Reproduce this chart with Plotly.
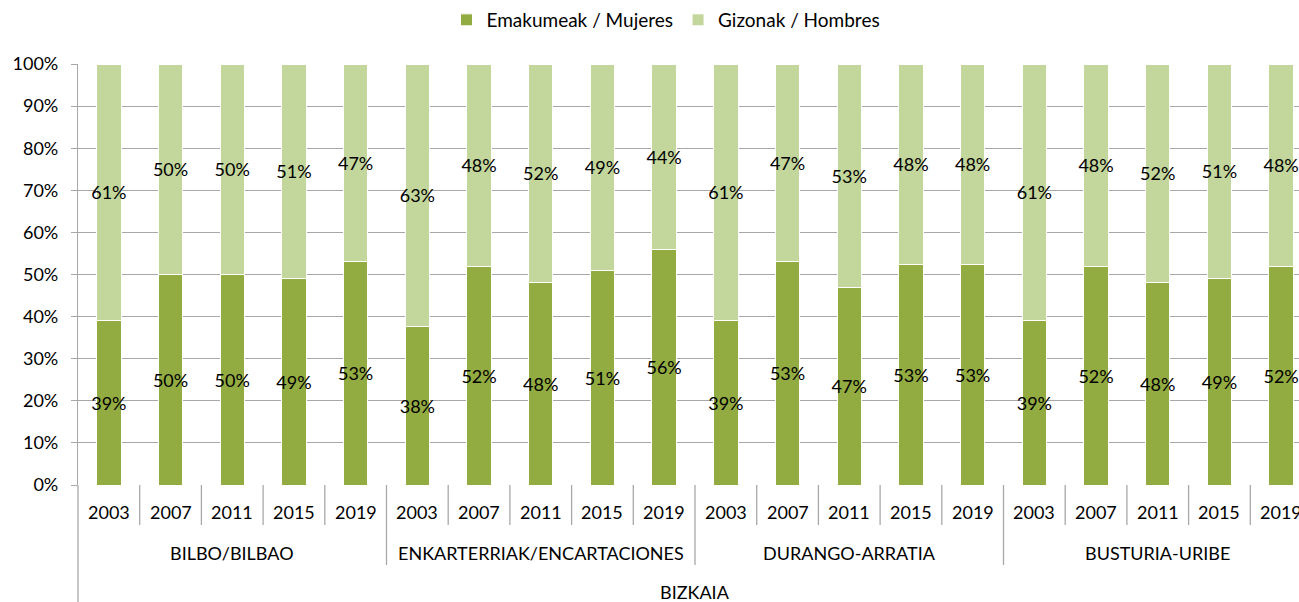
import plotly.graph_objects as go

# ---------------- data ----------------
regions = ["BILBO/BILBAO", "ENKARTERRIAK/ENCARTACIONES", "DURANGO-ARRATIA", "BUSTURIA-URIBE"]
years = ["2003", "2007", "2011", "2015", "2019"]
top_label = "BIZKAIA"

women = [39, 50, 50, 49, 53,
         38, 52, 48, 51, 56,
         39, 53, 47, 53, 53,
         39, 52, 48, 49, 52]
men = [61, 50, 50, 51, 47,
       63, 48, 52, 49, 44,
       61, 47, 53, 48, 48,
       61, 48, 52, 51, 48]

series_names = ["Emakumeak / Mujeres", "Gizonak / Hombres"]
y_ticks = [0, 10, 20, 30, 40, 50, 60, 70, 80, 90, 100]

# ---------------- style ----------------
FONT = "Lato"
FS = 18
C_WOMEN = "#93AC42"
C_MEN = "#C3D69B"
GRID = "#A8A8A8"
TXT = "#000000"

n = len(regions) * len(years)
xs = list(range(n))

fig = go.Figure()
for vals, name, col in [(women, series_names[0], C_WOMEN), (men, series_names[1], C_MEN)]:
    fig.add_trace(go.Bar(
        x=xs, y=vals, name=name,
        marker=dict(color=col, line=dict(color="white", width=1)),
        text=[f"{v}%" for v in vals],
        textposition="inside", insidetextanchor="middle",
        textangle=0, constraintext="none",
        textfont=dict(family=FONT, size=FS, color=TXT),
        cliponaxis=False,
        hoverinfo="skip",
    ))

W, H = 1299, 602
L, R, T, B = 78, 0, 64, 117
cat_px = 61.7
plot_w = W - L - R
xmax = -0.5 + plot_w / cat_px

fig.update_layout(
    width=W, height=H,
    margin=dict(l=L, r=R, t=T, b=B, pad=0, autoexpand=False),
    barmode="stack", barnorm="percent", bargap=0.605,
    plot_bgcolor="white", paper_bgcolor="white",
    font=dict(family=FONT, size=FS, color=TXT),
    showlegend=True,
    legend=dict(orientation="h", traceorder="normal",
                xref="container", x=666 / W, xanchor="center",
                yref="container", y=1 - 20 / H, yanchor="middle",
                font=dict(family=FONT, size=19, color=TXT),
                itemwidth=30, tracegroupgap=0),
    xaxis=dict(range=[-0.5, xmax], showticklabels=False, showgrid=False,
               zeroline=False, showline=False, ticks="", automargin=False),
    yaxis=dict(range=[0, 100], tickvals=y_ticks, ticktext=[f"{v}%" for v in y_ticks],
               showgrid=True, gridcolor=GRID, gridwidth=1.3,
               ticks="outside", ticklen=6, tickcolor=GRID, tickwidth=1.3,
               ticklabelstandoff=9,
               showline=True, linecolor=GRID, linewidth=1.3, automargin=False,
               zeroline=False, tickfont=dict(family=FONT, size=FS, color=TXT)),
)

shapes = []
annotations = []
# y axis line continuing down through the category area
shapes.append(dict(type="line", xref="paper", yref="paper", x0=0, x1=0,
                   ysizemode="pixel", yanchor=0, y0=0, y1=-B,
                   line=dict(color=GRID, width=1.3)))
# category dividers
for k in range(1, n + 1):
    is_group = (k % len(years) == 0)
    shapes.append(dict(type="line", xref="x", yref="paper", x0=k - 0.5, x1=k - 0.5,
                       ysizemode="pixel", yanchor=0, y0=0, y1=-80 if is_group else -40,
                       line=dict(color=GRID, width=1.3)))
# year labels
for i in xs:
    annotations.append(dict(xref="x", yref="paper", x=i, y=0, yshift=-27,
                            text=years[i % len(years)], showarrow=False,
                            xanchor="center", yanchor="middle",
                            font=dict(family=FONT, size=FS, color=TXT)))
# region labels
for g, reg in enumerate(regions):
    cx = g * len(years) + (len(years) - 1) / 2
    annotations.append(dict(xref="x", yref="paper", x=cx, y=0, yshift=-68,
                            text=reg, showarrow=False, xanchor="center", yanchor="middle",
                            font=dict(family=FONT, size=FS, color=TXT)))
# top-level label
annotations.append(dict(xref="x", yref="paper", x=(n - 1) / 2, y=0, yshift=-107,
                        text=top_label, showarrow=False, xanchor="center", yanchor="middle",
                        font=dict(family=FONT, size=FS, color=TXT)))

fig.update_layout(shapes=shapes, annotations=annotations)
fig.write_html("out.html",
               config={"displayModeBar": False},
               post_script="document.body.style.margin='0';document.body.style.overflow='hidden';")
